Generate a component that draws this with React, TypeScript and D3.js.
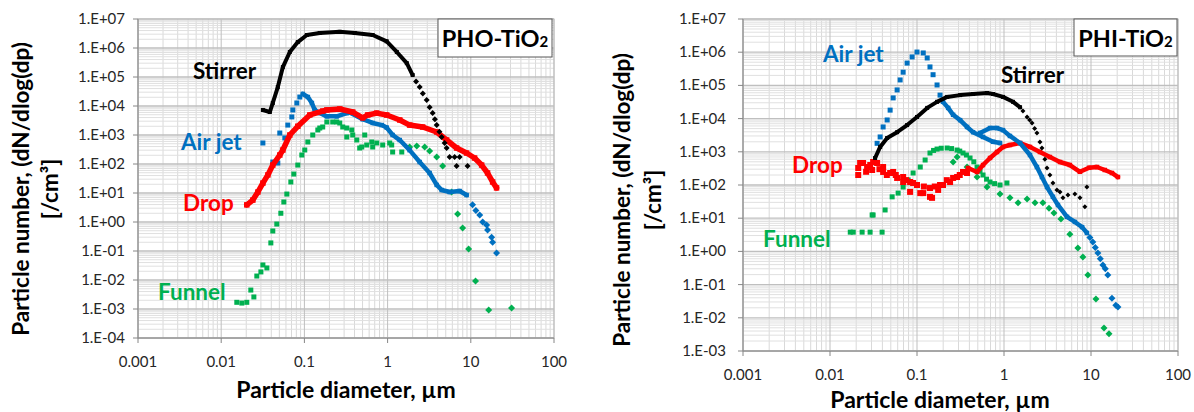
import React from 'react';
import * as d3 from 'd3';

type Pt = [number, number];

// ---------- axis ticks ----------
const X_TICKS = [0.001, 0.01, 0.1, 1, 10, 100];
const X_TICK_LABELS = ['0.001', '0.01', '0.1', '1', '10', '100'];
const LEFT_Y_TICKS = [1e-4, 1e-3, 1e-2, 1e-1, 1e0, 1e1, 1e2, 1e3, 1e4, 1e5, 1e6, 1e7];
const LEFT_Y_TICK_LABELS = ['1.E-04', '1.E-03', '1.E-02', '1.E-01', '1.E+00', '1.E+01', '1.E+02', '1.E+03', '1.E+04', '1.E+05', '1.E+06', '1.E+07'];
const RIGHT_Y_TICKS = [1e-3, 1e-2, 1e-1, 1e0, 1e1, 1e2, 1e3, 1e4, 1e5, 1e6, 1e7];
const RIGHT_Y_TICK_LABELS = ['1.E-03', '1.E-02', '1.E-01', '1.E+00', '1.E+01', '1.E+02', '1.E+03', '1.E+04', '1.E+05', '1.E+06', '1.E+07'];

// ---------- PHO-TiO2 (left) ----------
const leftStirrerDense: Pt[] = [[0.0317, 7.3e3], [0.0384, 6.2e3], [0.0417, 1.27e4], [0.0479, 4.5e4], [0.0551, 2.2e5], [0.0668, 7.3e5], [0.0833, 1.6e6], [0.107, 2.8e6], [0.153, 3.3e6], [0.266, 3.6e6], [0.403, 3.3e6], [0.662, 2.8e6], [0.975, 1.7e6], [1.29, 7.3e5], [1.7, 3.0e5], [2.0, 1.17e5]];
const leftStirrerAps: Pt[] = [[2.2, 7.0e4], [2.43, 4.5e4], [2.65, 2.7e4], [2.95, 1.6e4], [3.2, 9.0e3], [3.48, 5.7e3], [3.7, 3.5e3], [3.89, 2.2e3], [4.2, 1.3e3], [4.46, 850], [4.85, 530], [5.12, 356], [5.57, 174], [6.39, 174], [7.34, 174], [6.75, 85], [9.15, 85]];
const leftAirjetSparse: Pt[] = [[0.0317, 530], [0.0417, 117], [0.0479, 108], [0.0506, 1.17e3], [0.0582, 790], [0.0632, 2.2e3], [0.0706, 4.2e3], [0.0726, 7.3e3], [0.0811, 1.27e4], [0.0881, 2.04e4]];
const leftAirjetDense: Pt[] = [[0.0957, 2.6e4], [0.11, 2.04e4], [0.123, 1.27e4], [0.133, 7.3e3], [0.153, 5.7e3], [0.186, 4.4e3], [0.245, 4.4e3], [0.323, 5.7e3], [0.351, 6.0e3], [0.502, 3.5e3], [0.662, 2.6e3], [0.85, 2.2e3], [0.975, 1.8e3], [1.15, 1.0e3], [1.4, 670], [1.84, 300], [2.43, 117], [3.2, 49], [3.89, 19], [4.46, 12.7], [5.57, 10.8], [7.34, 11.7], [8.9, 8.5]];
const leftAirjetAps: Pt[] = [[10.5, 3.9], [11.5, 2.5], [12.8, 1.74], [13.9, 1.0], [15.5, 0.79], [15.9, 0.53], [17.8, 0.3], [18.3, 0.2], [20.4, 0.085]];
const leftDropDense: Pt[] = [[0.0203, 3.9], [0.024, 5.7], [0.0276, 10.8], [0.0317, 22], [0.0364, 42], [0.0417, 92], [0.0506, 204], [0.0551, 304], [0.0668, 1.0e3], [0.0833, 2.0e3], [0.116, 4.9e3], [0.166, 6.7e3], [0.186, 7.3e3], [0.266, 7.9e3], [0.381, 6.2e3], [0.502, 3.9e3], [0.577, 4.9e3], [0.74, 5.7e3], [0.975, 4.9e3], [1.4, 3.3e3], [1.84, 2.2e3], [2.64, 1.89e3], [3.89, 1.27e3], [5.12, 673], [6.75, 356], [8.9, 239], [11.1, 161], [13.5, 92], [15.9, 49], [18.3, 24], [20.4, 15]];
const leftFunnelSmps: Pt[] = [[0.0154, 0.0017], [0.0177, 0.0016], [0.0203, 0.0017], [0.0227, 0.0045], [0.0247, 0.0026], [0.0268, 0.0137], [0.03, 0.019], [0.0317, 0.033], [0.0354, 0.026], [0.0395, 0.19], [0.0417, 0.49], [0.0466, 0.85], [0.0521, 2.0], [0.0566, 4.9], [0.0615, 9.2], [0.0687, 24], [0.0746, 45], [0.0833, 92], [0.0931, 204], [0.101, 304], [0.11, 574], [0.126, 1.0e3], [0.145, 1.49e3], [0.153, 1.74e3], [0.166, 1.89e3], [0.186, 2.81e3], [0.219, 2.81e3], [0.245, 2.81e3], [0.266, 2.59e3], [0.289, 1.89e3], [0.323, 1.74e3], [0.323, 853], [0.371, 1.49e3], [0.381, 1.0e3], [0.426, 673], [0.462, 356], [0.489, 386], [0.531, 1.0e3], [0.561, 452], [0.645, 574], [0.662, 386], [0.74, 530], [0.873, 452], [1.06, 530], [1.12, 452], [1.15, 259], [1.48, 259]];
const leftFunnelAps: Pt[] = [[1.84, 386], [2.24, 418], [2.79, 386], [3.2, 281], [3.89, 174], [4.59, 85], [5.88, 10.8], [6.94, 1.9], [7.97, 0.62], [9.41, 0.117], [11.4, 0.0092], [16.4, 0.00092], [30.9, 0.00108]];

// ---------- PHI-TiO2 (right) ----------
const rightStirrerDense: Pt[] = [[0.033, 650], [0.0377, 1.4e3], [0.0454, 2.6e3], [0.0591, 3.9e3], [0.077, 6.4e3], [0.1, 1.12e4], [0.131, 2.1e4], [0.17, 3.2e4], [0.222, 4.5e4], [0.313, 5.1e4], [0.441, 5.5e4], [0.638, 5.9e4], [0.748, 5.5e4], [0.974, 4.5e4], [1.27, 3.2e4], [1.53, 2.2e4]];
const rightStirrerAps: Pt[] = [[1.65, 1.7e4], [1.84, 1.12e4], [1.97, 9.0e3], [2.1, 7.4e3], [2.25, 5.0e3], [2.39, 3.7e3], [2.59, 1.97e3], [2.73, 1.3e3], [2.95, 600], [3.12, 325], [3.37, 200], [3.65, 115], [4.06, 71], [4.4, 62], [4.76, 41], [5.43, 50], [6.53, 54], [7.46, 41], [8.51, 22], [8.97, 87]];
const rightAirjetSmps: Pt[] = [[0.0348, 1.8e3], [0.0377, 2.8e3], [0.0408, 5.6e3], [0.0454, 9.1e3], [0.0491, 1.8e4], [0.0532, 4.2e4], [0.0591, 7.3e4], [0.064, 1.46e5], [0.0693, 2.5e5], [0.077, 4.7e5], [0.0879, 7.2e5], [0.1, 1.01e6], [0.118, 9.5e5], [0.131, 6.7e5], [0.141, 3.6e5], [0.153, 2.1e5], [0.17, 1.03e5], [0.184, 5.1e4]];
const rightAirjetDense: Pt[] = [[0.199, 3.2e4], [0.228, 2.1e4], [0.26, 1.3e4], [0.313, 9.0e3], [0.376, 5.6e3], [0.441, 3.9e3], [0.574, 2.8e3], [0.748, 2.0e3], [0.9, 1.84e3]];
const rightAirjetApsDense: Pt[] = [[0.53, 3.7e3], [0.691, 5.2e3], [0.831, 5.2e3], [0.974, 4.5e3], [1.17, 3.0e3], [1.53, 1.84e3], [1.99, 800], [2.39, 348], [2.73, 174], [3.12, 87], [3.65, 44], [4.17, 25], [5.3, 11], [6.53, 7.7], [7.9, 5.4], [8.97, 3.6]];
const rightAirjetApsTail: Pt[] = [[9.7, 2.6], [10.5, 1.92], [11.2, 1.3], [12.0, 0.9], [12.8, 0.6], [13.7, 0.39], [14.6, 0.3], [15.6, 0.195], [17.4, 0.039], [19.3, 0.024], [20.4, 0.021]];
const rightDropSmps: Pt[] = [[0.0211, 325], [0.0222, 460], [0.0211, 200], [0.024, 460], [0.026, 250], [0.0267, 348], [0.029, 400], [0.0305, 283], [0.0313, 493], [0.0348, 460], [0.037, 300], [0.0408, 247], [0.0408, 348], [0.045, 200], [0.0491, 230], [0.0532, 247], [0.057, 200], [0.0591, 163], [0.0693, 174], [0.0693, 123], [0.075, 140], [0.0833, 123], [0.0833, 62], [0.0902, 115], [0.1, 100], [0.109, 57], [0.118, 57], [0.12, 90], [0.141, 81], [0.141, 44], [0.149, 41], [0.16, 90], [0.175, 71], [0.184, 100], [0.199, 100], [0.22, 140], [0.24, 123], [0.26, 163], [0.289, 174], [0.31, 200], [0.338, 247], [0.376, 230]];
const rightDropDense: Pt[] = [[0.386, 325], [0.49, 247], [0.574, 400], [0.691, 650], [0.831, 986], [0.974, 1.4e3], [1.17, 1.6e3], [1.53, 1.84e3], [1.99, 1.4e3], [2.59, 986], [3.37, 697], [4.4, 493], [5.72, 400], [7.46, 250], [9.5, 330], [11.7, 348], [14.4, 283], [17.4, 230], [20.4, 174]];
const rightFunnelSmps: Pt[] = [[0.0171, 3.8], [0.0185, 3.8], [0.0234, 3.8], [0.0289, 3.8], [0.0397, 3.8], [0.0305, 12.5], [0.0313, 12.5], [0.043, 17.7], [0.0518, 44], [0.0607, 57], [0.0693, 87], [0.0791, 142], [0.0902, 230], [0.109, 348], [0.124, 566], [0.141, 920], [0.155, 1.1e3], [0.17, 1.21e3], [0.19, 1.28e3], [0.222, 1.3e3], [0.25, 1.25e3], [0.289, 1.13e3], [0.31, 1.05e3], [0.338, 920], [0.37, 800], [0.407, 650], [0.45, 500], [0.49, 348], [0.53, 260], [0.574, 200], [0.63, 150], [0.691, 123], [0.78, 110], [0.9, 100], [1.08, 115]];
const rightFunnelAps: Pt[] = [[0.26, 493], [0.289, 697], [0.376, 348], [0.49, 174], [0.638, 87], [0.9, 54], [1.17, 41], [1.45, 29], [1.84, 38], [2.27, 29], [2.8, 29], [3.29, 20], [3.75, 14.4], [4.51, 9.5], [5.72, 3.3], [7.07, 1.26], [8.07, 0.68], [9.21, 0.195], [11.4, 0.037], [14.1, 0.0049], [16.1, 0.0033]];

const BLACK = '#000000';
const BLUE = '#0070C0';
const RED = '#FF0000';
const GREEN = '#00B050';
const FONT = "Lato, 'Open Sans', sans-serif";

type Kind = 'line' | 'square' | 'diamond';
interface Series { data: Pt[]; color: string; kind: Kind; size: number; }
interface Label { text: string; color: string; x: number; y: number; }
interface PanelProps {
  box: { x0: number; x1: number; y0: number; y1: number };
  yDomain: [number, number];
  yTicks: number[];
  yTickLabels: string[];
  series: Series[];
  labels: Label[];
  title: string;
  titleBox: { x: number; y: number; w: number; h: number };
  yTitle: { x1: number; x2: number; cy: number };
  xTitle: { x: number; y: number };
  tickLabelY: number;
  yLabelX: number;
}

function Marker({ x, y, kind, size, color }: { x: number; y: number; kind: Kind; size: number; color: string }) {
  if (kind === 'diamond') {
    const r = size / 2;
    return <path d={`M${x},${y - r}L${x + r},${y}L${x},${y + r}L${x - r},${y}Z`} fill={color} />;
  }
  return <rect x={x - size / 2} y={y - size / 2} width={size} height={size} fill={color} />;
}

function Panel(p: PanelProps) {
  const { box } = p;
  const x = d3.scaleLog().domain([X_TICKS[0], X_TICKS[X_TICKS.length - 1]]).range([box.x0, box.x1]);
  const y = d3.scaleLog().domain(p.yDomain).range([box.y1, box.y0]);
  const minorX: number[] = [];
  X_TICKS.slice(0, -1).forEach((t) => { for (let k = 2; k <= 9; k++) minorX.push(t * k); });
  const minorY: number[] = [];
  p.yTicks.slice(0, -1).forEach((t) => { for (let k = 2; k <= 9; k++) minorY.push(t * k); });
  const line = d3.line<Pt>().x((d) => x(d[0])).y((d) => y(d[1]));
  const titleParts = p.title.split('2');
  return (
    <g>
      {minorX.map((v, i) => <line key={'mx' + i} x1={x(v)} x2={x(v)} y1={box.y0} y2={box.y1} stroke="#d9d9d9" strokeWidth={1} />)}
      {minorY.map((v, i) => <line key={'my' + i} x1={box.x0} x2={box.x1} y1={y(v)} y2={y(v)} stroke="#e0e0e0" strokeWidth={1} />)}
      {X_TICKS.map((v, i) => <line key={'Mx' + i} x1={x(v)} x2={x(v)} y1={box.y0} y2={box.y1} stroke="#bfbfbf" strokeWidth={1} />)}
      {p.yTicks.map((v, i) => <line key={'My' + i} x1={box.x0} x2={box.x1} y1={y(v)} y2={y(v)} stroke="#bfbfbf" strokeWidth={1.3} />)}
      <rect x={box.x0} y={box.y0} width={box.x1 - box.x0} height={box.y1 - box.y0} fill="none" stroke="#bfbfbf" />
      <line x1={box.x0} x2={box.x0} y1={box.y0} y2={box.y1} stroke="#868686" />
      <line x1={box.x0} x2={box.x1} y1={box.y1} y2={box.y1} stroke="#868686" />
      {p.yTicks.map((v, i) => <line key={'ty' + i} x1={box.x0 - 5} x2={box.x0} y1={y(v)} y2={y(v)} stroke="#868686" />)}
      {X_TICKS.map((v, i) => <line key={'tx' + i} x1={x(v)} x2={x(v)} y1={box.y1} y2={box.y1 + 5} stroke="#868686" />)}
      {p.yTicks.map((v, i) => (
        <text key={'ly' + i} x={p.yLabelX} y={y(v) + 5} textAnchor="end" fontFamily={FONT} fontSize={15} fill="#262626">{p.yTickLabels[i]}</text>
      ))}
      {X_TICKS.map((v, i) => (
        <text key={'lx' + i} x={x(v)} y={p.tickLabelY} textAnchor="middle" fontFamily={FONT} fontSize={15} fill="#262626">{X_TICK_LABELS[i]}</text>
      ))}
      {p.series.map((s, si) => (
        <g key={'s' + si}>
          {s.kind === 'line' && (
            <path d={line(s.data) || ''} fill="none" stroke={s.color} strokeWidth={s.size} strokeLinejoin="round" strokeLinecap="round" />
          )}
          {s.data.map((d, i) => (
            <Marker key={i} x={x(d[0])} y={y(d[1])} kind={s.kind === 'line' ? 'square' : s.kind} size={s.size} color={s.color} />
          ))}
        </g>
      ))}
      {p.labels.map((l, i) => (
        <text key={'sl' + i} x={l.x} y={l.y} fontFamily={FONT} fontWeight="bold" fontSize={22.5} fill={l.color}>{l.text}</text>
      ))}
      <rect x={p.titleBox.x} y={p.titleBox.y} width={p.titleBox.w} height={p.titleBox.h} fill="#ffffff" stroke="#595959" strokeWidth={1} />
      <text x={p.titleBox.x + p.titleBox.w / 2} y={p.titleBox.y + 28} textAnchor="middle" fontFamily={FONT} fontWeight="bold" fontSize={23.5} fill="#000">
        {titleParts[0]}<tspan fontSize={15}>2</tspan>
      </text>
      <text x={p.xTitle.x} y={p.xTitle.y} textAnchor="middle" fontFamily={FONT} fontWeight="bold" fontSize={23} fill="#000">Particle diameter, µm</text>
      <text transform={`translate(${p.yTitle.x1},${p.yTitle.cy}) rotate(-90)`} textAnchor="middle" fontFamily={FONT} fontWeight="bold" fontSize={22.5} fill="#000">Particle number, (dN/dlog(dp)</text>
      <text transform={`translate(${p.yTitle.x2},${p.yTitle.cy}) rotate(-90)`} textAnchor="middle" fontFamily={FONT} fontWeight="bold" fontSize={22.5} fill="#000">[/cm³]</text>
    </g>
  );
}

export default function App() {
  const leftSeries: Series[] = [
    { data: leftFunnelSmps, color: GREEN, kind: 'square', size: 5 },
    { data: leftFunnelAps, color: GREEN, kind: 'diamond', size: 7 },
    { data: leftAirjetSparse, color: BLUE, kind: 'square', size: 5 },
    { data: leftAirjetDense, color: BLUE, kind: 'line', size: 4.5 },
    { data: leftAirjetAps, color: BLUE, kind: 'diamond', size: 7 },
    { data: leftDropDense, color: RED, kind: 'line', size: 5.5 },
    { data: leftStirrerDense, color: BLACK, kind: 'line', size: 4 },
    { data: leftStirrerAps, color: BLACK, kind: 'diamond', size: 6 },
  ];
  const rightSeries: Series[] = [
    { data: rightFunnelSmps, color: GREEN, kind: 'square', size: 5 },
    { data: rightFunnelAps, color: GREEN, kind: 'diamond', size: 7 },
    { data: rightDropSmps, color: RED, kind: 'square', size: 6 },
    { data: rightDropDense, color: RED, kind: 'line', size: 4.5 },
    { data: rightAirjetSmps, color: BLUE, kind: 'square', size: 5 },
    { data: rightAirjetDense, color: BLUE, kind: 'line', size: 4.5 },
    { data: rightAirjetApsDense, color: BLUE, kind: 'line', size: 4.5 },
    { data: rightAirjetApsTail, color: BLUE, kind: 'diamond', size: 7 },
    { data: rightStirrerDense, color: BLACK, kind: 'line', size: 4 },
    { data: rightStirrerAps, color: BLACK, kind: 'diamond', size: 5 },
  ];
  return (
    <svg width={1194} height={412} style={{ position: 'absolute', left: 0, top: 0, background: '#fff' }}>
      <rect x={0} y={0} width={1194} height={412} fill="#fff" />
      <Panel
        box={{ x0: 138, x1: 554, y0: 19, y1: 338 }}
        yDomain={[1e-4, 1e7]}
        yTicks={LEFT_Y_TICKS}
        yTickLabels={LEFT_Y_TICK_LABELS}
        series={leftSeries}
        labels={[
          { text: 'Stirrer', color: BLACK, x: 193, y: 79 },
          { text: 'Air jet', color: BLUE, x: 181, y: 150 },
          { text: 'Drop', color: RED, x: 183, y: 211 },
          { text: 'Funnel', color: GREEN, x: 158, y: 300 },
        ]}
        title="PHO-TiO2"
        titleBox={{ x: 438, y: 19, w: 114, h: 38 }}
        yTitle={{ x1: 29, x2: 58, cy: 189 }}
        xTitle={{ x: 346, y: 398 }}
        tickLabelY={367}
        yLabelX={125}
      />
      <Panel
        box={{ x0: 743, x1: 1178, y0: 19, y1: 351 }}
        yDomain={[1e-3, 1e7]}
        yTicks={RIGHT_Y_TICKS}
        yTickLabels={RIGHT_Y_TICK_LABELS}
        series={rightSeries}
        labels={[
          { text: 'Air jet', color: BLUE, x: 823, y: 62 },
          { text: 'Stirrer', color: BLACK, x: 1001, y: 83 },
          { text: 'Drop', color: RED, x: 792, y: 173 },
          { text: 'Funnel', color: GREEN, x: 763, y: 247 },
        ]}
        title="PHI-TiO2"
        titleBox={{ x: 1074, y: 19, w: 103, h: 37 }}
        yTitle={{ x1: 630, x2: 661, cy: 200 }}
        xTitle={{ x: 940, y: 408 }}
        tickLabelY={380}
        yLabelX={726}
      />
    </svg>
  );
}
